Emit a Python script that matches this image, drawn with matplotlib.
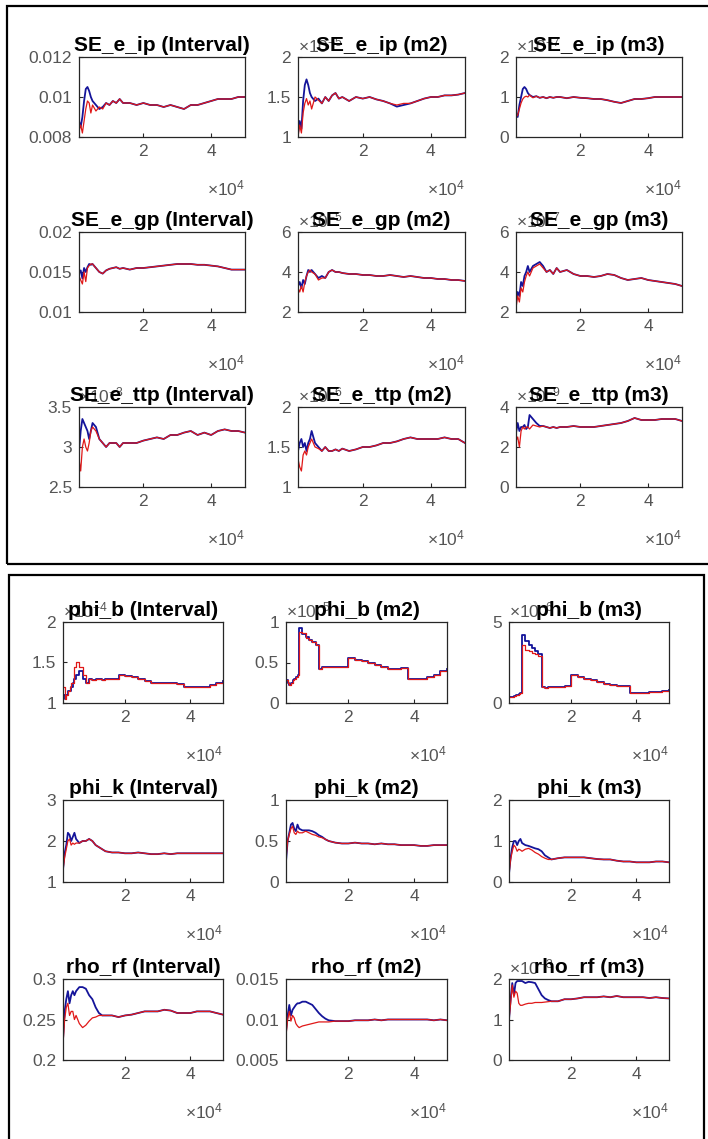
import matplotlib
matplotlib.use('Agg')
import matplotlib.pyplot as plt
from matplotlib.patches import Rectangle
from matplotlib.ticker import FuncFormatter, FixedLocator

plt.rcParams['font.family'] = ['Liberation Sans', 'DejaVu Sans']
plt.rcParams['mathtext.fontset'] = 'custom'
plt.rcParams['mathtext.rm'] = 'Liberation Sans'

# sample index (draws), shared by every panel
X = [1000, 1500, 2000, 2500, 3000, 3500, 4000, 4500, 5000, 6000, 7000, 8000,
     9000, 10000, 11000, 12000, 13000, 14000, 16000, 18000, 20000, 22000,
     24000, 26000, 28000, 30000, 32000, 34000, 36000, 38000, 40000, 42000,
     44000, 46000, 48000, 50000]

# --- top block (values as shown on the axes, multiplier in y_exp) ---
se_ip_int_blue = [0.0088, 0.0085, 0.0090, 0.0098, 0.0104, 0.0105, 0.0103, 0.0100, 0.0098, 0.0096, 0.0094, 0.0095,
                  0.0097, 0.0096, 0.0098, 0.0097, 0.0099, 0.0097, 0.0097, 0.0096, 0.0097, 0.0096, 0.0096, 0.0095,
                  0.0096, 0.0095, 0.0094, 0.0096, 0.0096, 0.0097, 0.0098, 0.0099, 0.0099, 0.0099, 0.0100, 0.0100]
se_ip_int_red = [0.0083, 0.0086, 0.0082, 0.0088, 0.0094, 0.0098, 0.0097, 0.0092, 0.0096, 0.0093, 0.0095, 0.0094,
                 0.0097, 0.0096, 0.0098, 0.0097, 0.0099, 0.0097, 0.0097, 0.0096, 0.0097, 0.0096, 0.0096, 0.0095,
                 0.0096, 0.0095, 0.0094, 0.0096, 0.0096, 0.0097, 0.0098, 0.0099, 0.0099, 0.0099, 0.0100, 0.0100]

se_ip_m2_blue = [1.05, 1.2, 1.1, 1.45, 1.65, 1.72, 1.65, 1.55, 1.50, 1.45, 1.48, 1.42,
                 1.50, 1.45, 1.52, 1.55, 1.48, 1.50, 1.45, 1.50, 1.48, 1.50, 1.47, 1.45,
                 1.42, 1.38, 1.40, 1.42, 1.45, 1.48, 1.50, 1.50, 1.52, 1.52, 1.53, 1.55]
se_ip_m2_red = [1.0, 1.15, 1.05, 1.3, 1.42, 1.48, 1.40, 1.45, 1.35, 1.50, 1.46, 1.42,
                1.50, 1.45, 1.52, 1.55, 1.48, 1.50, 1.45, 1.50, 1.48, 1.50, 1.47, 1.45,
                1.42, 1.40, 1.42, 1.42, 1.45, 1.48, 1.50, 1.50, 1.52, 1.52, 1.53, 1.55]

se_ip_m3_blue = [0.6, 0.5, 0.8, 1.0, 1.2, 1.25, 1.2, 1.1, 1.05, 1.0, 1.02, 0.98,
                 1.0, 0.97, 1.0, 0.98, 1.0, 1.0, 0.97, 1.0, 0.98, 0.97, 0.95, 0.95,
                 0.92, 0.88, 0.85, 0.9, 0.95, 0.95, 0.97, 1.0, 1.0, 1.0, 1.0, 1.0]
se_ip_m3_red = [0.5, 0.55, 0.7, 0.85, 0.95, 1.0, 1.02, 1.0, 1.05, 0.98, 1.02, 0.98,
                1.0, 0.97, 1.0, 0.98, 1.0, 1.0, 0.97, 1.0, 0.98, 0.97, 0.95, 0.95,
                0.92, 0.88, 0.85, 0.9, 0.95, 0.95, 0.97, 1.0, 1.0, 1.0, 1.0, 1.0]

se_gp_int_blue = [0.0148, 0.0152, 0.0142, 0.0155, 0.0150, 0.0156, 0.0160, 0.0159, 0.0160, 0.0155, 0.0150, 0.0148,
                  0.0152, 0.0154, 0.0155, 0.0156, 0.0154, 0.0155, 0.0153, 0.0155, 0.0155, 0.0156, 0.0157, 0.0158,
                  0.0159, 0.0160, 0.0160, 0.0160, 0.0159, 0.0159, 0.0158, 0.0157, 0.0155, 0.0153, 0.0153, 0.0153]
se_gp_int_red = [0.0145, 0.0140, 0.0135, 0.0150, 0.0138, 0.0155, 0.0158, 0.0160, 0.0160, 0.0155, 0.0150, 0.0148,
                 0.0152, 0.0154, 0.0155, 0.0156, 0.0154, 0.0155, 0.0153, 0.0155, 0.0155, 0.0156, 0.0157, 0.0158,
                 0.0159, 0.0160, 0.0160, 0.0160, 0.0159, 0.0159, 0.0158, 0.0157, 0.0155, 0.0153, 0.0153, 0.0153]

se_gp_m2_blue = [3.3, 3.5, 3.2, 3.6, 3.4, 3.8, 4.1, 4.0, 4.1, 3.9, 3.7, 3.8,
                 3.7, 4.0, 4.1, 4.0, 4.0, 3.95, 3.9, 3.9, 3.85, 3.85, 3.8, 3.8,
                 3.85, 3.8, 3.75, 3.8, 3.75, 3.7, 3.7, 3.65, 3.65, 3.6, 3.6, 3.55]
se_gp_m2_red = [3.2, 3.0, 3.3, 3.0, 3.5, 3.8, 4.0, 4.1, 4.0, 3.9, 3.6, 3.7,
                3.7, 4.0, 4.1, 4.0, 4.0, 3.95, 3.9, 3.9, 3.85, 3.85, 3.8, 3.8,
                3.85, 3.8, 3.75, 3.8, 3.75, 3.7, 3.7, 3.65, 3.65, 3.6, 3.6, 3.55]

se_gp_m3_blue = [2.5, 3.0, 2.8, 3.5, 3.3, 3.8, 4.0, 4.3, 4.0, 4.3, 4.4, 4.5,
                 4.3, 4.0, 4.1, 3.9, 4.2, 4.0, 4.1, 3.9, 3.8, 3.8, 3.75, 3.8,
                 3.9, 3.85, 3.7, 3.6, 3.65, 3.7, 3.6, 3.55, 3.5, 3.45, 3.4, 3.3]
se_gp_m3_red = [2.2, 2.8, 2.5, 3.2, 3.0, 3.5, 3.8, 4.0, 3.8, 4.2, 4.3, 4.4,
                4.2, 4.0, 4.1, 3.9, 4.2, 4.0, 4.1, 3.9, 3.8, 3.8, 3.75, 3.8,
                3.9, 3.85, 3.7, 3.6, 3.65, 3.7, 3.6, 3.55, 3.5, 3.45, 3.4, 3.3]

se_ttp_int_blue = [2.95, 3.2, 3.35, 3.3, 3.25, 3.2, 3.1, 3.2, 3.3, 3.25, 3.1, 3.05,
                   3.0, 3.05, 3.05, 3.05, 3.0, 3.05, 3.05, 3.05, 3.08, 3.1, 3.12, 3.1,
                   3.15, 3.15, 3.18, 3.2, 3.15, 3.18, 3.15, 3.2, 3.22, 3.2, 3.2, 3.18]
se_ttp_int_red = [2.85, 2.7, 3.0, 3.1, 3.0, 2.95, 3.05, 3.2, 3.25, 3.2, 3.1, 3.05,
                  3.0, 3.05, 3.05, 3.05, 3.0, 3.05, 3.05, 3.05, 3.08, 3.1, 3.12, 3.1,
                  3.15, 3.15, 3.18, 3.2, 3.15, 3.18, 3.15, 3.2, 3.22, 3.2, 3.2, 3.18]

se_ttp_m2_blue = [1.45, 1.55, 1.6, 1.5, 1.55, 1.45, 1.55, 1.6, 1.7, 1.55, 1.5, 1.45,
                  1.5, 1.45, 1.45, 1.47, 1.45, 1.48, 1.45, 1.47, 1.5, 1.5, 1.52, 1.55,
                  1.55, 1.57, 1.6, 1.62, 1.6, 1.6, 1.6, 1.6, 1.62, 1.6, 1.6, 1.55]
se_ttp_m2_red = [1.35, 1.25, 1.2, 1.4, 1.45, 1.4, 1.5, 1.55, 1.6, 1.5, 1.48, 1.45,
                 1.5, 1.45, 1.45, 1.47, 1.45, 1.48, 1.45, 1.47, 1.5, 1.5, 1.52, 1.55,
                 1.55, 1.57, 1.6, 1.62, 1.6, 1.6, 1.6, 1.6, 1.62, 1.6, 1.6, 1.55]

se_ttp_m3_blue = [2.7, 3.2, 2.8, 3.0, 3.0, 3.1, 2.9, 3.0, 3.6, 3.4, 3.2, 3.05,
                  3.05, 3.0, 2.95, 3.0, 2.95, 3.0, 3.0, 3.05, 3.0, 3.0, 3.0, 3.05,
                  3.1, 3.15, 3.2, 3.3, 3.45, 3.35, 3.35, 3.35, 3.4, 3.4, 3.4, 3.3]
se_ttp_m3_red = [2.3, 2.5, 2.0, 2.8, 3.0, 2.9, 3.0, 3.0, 2.9, 3.1, 3.05, 3.0,
                 3.05, 3.0, 2.95, 3.0, 2.95, 3.0, 3.0, 3.05, 3.0, 3.0, 3.0, 3.05,
                 3.1, 3.15, 3.2, 3.3, 3.45, 3.35, 3.35, 3.35, 3.4, 3.4, 3.4, 3.3]

# --- bottom block ---
phi_b_int_blue = [1.1, 1.05, 1.1, 1.15, 1.15, 1.2, 1.25, 1.3, 1.35, 1.4, 1.3, 1.25,
                  1.3, 1.28, 1.3, 1.3, 1.28, 1.3, 1.3, 1.35, 1.33, 1.32, 1.3, 1.27,
                  1.25, 1.25, 1.25, 1.25, 1.23, 1.2, 1.2, 1.2, 1.2, 1.22, 1.25, 1.27]
phi_b_int_red = [1.2, 1.05, 1.1, 1.15, 1.2, 1.25, 1.25, 1.45, 1.5, 1.45, 1.35, 1.25,
                 1.3, 1.28, 1.3, 1.3, 1.28, 1.3, 1.3, 1.35, 1.33, 1.32, 1.3, 1.27,
                 1.25, 1.25, 1.25, 1.25, 1.23, 1.2, 1.2, 1.2, 1.2, 1.22, 1.25, 1.27]

phi_b_m2_blue = [0.28, 0.25, 0.22, 0.25, 0.28, 0.3, 0.32, 0.35, 0.92, 0.85, 0.82, 0.78,
                 0.75, 0.72, 0.42, 0.45, 0.45, 0.45, 0.45, 0.45, 0.55, 0.53, 0.52, 0.5,
                 0.47, 0.45, 0.42, 0.42, 0.43, 0.3, 0.3, 0.3, 0.32, 0.35, 0.4, 0.42]
phi_b_m2_red = [0.28, 0.25, 0.22, 0.25, 0.28, 0.3, 0.32, 0.35, 0.88, 0.86, 0.8, 0.78,
                0.75, 0.72, 0.42, 0.45, 0.45, 0.45, 0.45, 0.45, 0.55, 0.53, 0.52, 0.5,
                0.47, 0.45, 0.42, 0.42, 0.43, 0.3, 0.3, 0.3, 0.32, 0.35, 0.4, 0.42]

phi_b_m3_blue = [0.4, 0.35, 0.4, 0.45, 0.5, 0.5, 0.55, 0.6, 4.2, 3.8, 3.6, 3.4,
                 3.2, 3.0, 1.0, 0.9, 1.0, 1.0, 1.0, 1.05, 1.7, 1.6, 1.5, 1.4,
                 1.3, 1.2, 1.1, 1.05, 1.05, 0.6, 0.6, 0.6, 0.65, 0.7, 0.75, 0.8]
phi_b_m3_red = [0.4, 0.35, 0.4, 0.45, 0.5, 0.5, 0.55, 0.6, 3.6, 3.3, 3.2, 3.1,
                3.0, 2.9, 1.0, 0.9, 1.0, 1.0, 1.0, 1.05, 1.7, 1.6, 1.5, 1.4,
                1.3, 1.2, 1.1, 1.05, 1.05, 0.6, 0.6, 0.6, 0.65, 0.7, 0.75, 0.8]

phi_k_int_blue = [1.3, 1.7, 1.9, 2.2, 2.15, 2.0, 2.1, 2.2, 2.05, 1.95, 2.0, 2.0,
                  2.05, 2.0, 1.9, 1.85, 1.8, 1.75, 1.72, 1.72, 1.7, 1.7, 1.72, 1.7,
                  1.68, 1.68, 1.7, 1.68, 1.7, 1.7, 1.7, 1.7, 1.7, 1.7, 1.7, 1.7]
phi_k_int_red = [1.3, 1.6, 1.8, 2.0, 2.05, 1.9, 1.95, 1.92, 1.95, 1.95, 2.0, 2.0,
                 2.05, 2.0, 1.9, 1.85, 1.8, 1.75, 1.72, 1.72, 1.7, 1.7, 1.72, 1.7,
                 1.68, 1.68, 1.7, 1.68, 1.7, 1.7, 1.7, 1.7, 1.7, 1.7, 1.7, 1.7]

phi_k_m2_blue = [0.25, 0.5, 0.6, 0.7, 0.72, 0.65, 0.62, 0.7, 0.65, 0.63, 0.63, 0.63,
                 0.62, 0.6, 0.57, 0.55, 0.52, 0.5, 0.48, 0.47, 0.47, 0.48, 0.47, 0.47,
                 0.46, 0.47, 0.46, 0.46, 0.45, 0.45, 0.45, 0.44, 0.44, 0.45, 0.45, 0.45]
phi_k_m2_red = [0.28, 0.5, 0.58, 0.65, 0.68, 0.6, 0.58, 0.62, 0.6, 0.6, 0.62, 0.6,
                0.58, 0.57, 0.55, 0.54, 0.52, 0.5, 0.48, 0.47, 0.47, 0.48, 0.47, 0.47,
                0.46, 0.47, 0.46, 0.46, 0.45, 0.45, 0.45, 0.44, 0.44, 0.45, 0.45, 0.45]

phi_k_m3_blue = [0.2, 0.6, 0.85, 1.0, 1.0, 0.9, 1.0, 1.05, 0.95, 0.9, 0.88, 0.85,
                 0.82, 0.8, 0.75, 0.65, 0.6, 0.55, 0.58, 0.6, 0.6, 0.6, 0.6, 0.58,
                 0.56, 0.55, 0.55, 0.52, 0.5, 0.5, 0.48, 0.48, 0.48, 0.5, 0.5, 0.48]
phi_k_m3_red = [0.2, 0.55, 0.75, 0.9, 0.85, 0.75, 0.8, 0.78, 0.75, 0.8, 0.82, 0.78,
                0.72, 0.68, 0.62, 0.58, 0.55, 0.55, 0.58, 0.6, 0.6, 0.6, 0.6, 0.58,
                0.56, 0.55, 0.55, 0.52, 0.5, 0.5, 0.48, 0.48, 0.48, 0.5, 0.5, 0.48]

rho_int_blue = [0.225, 0.26, 0.275, 0.285, 0.27, 0.28, 0.285, 0.28, 0.285, 0.29, 0.29, 0.288,
                0.28, 0.275, 0.265, 0.258, 0.255, 0.255, 0.255, 0.253, 0.255, 0.256, 0.258, 0.26,
                0.26, 0.26, 0.262, 0.261, 0.258, 0.258, 0.258, 0.26, 0.26, 0.26, 0.258, 0.256]
rho_int_red = [0.22, 0.25, 0.265, 0.27, 0.255, 0.26, 0.26, 0.25, 0.255, 0.245, 0.24, 0.243,
               0.248, 0.252, 0.253, 0.255, 0.255, 0.255, 0.255, 0.253, 0.255, 0.256, 0.258, 0.26,
               0.26, 0.26, 0.262, 0.261, 0.258, 0.258, 0.258, 0.26, 0.26, 0.26, 0.258, 0.256]

rho_m2_blue = [0.0085, 0.0105, 0.0118, 0.0105, 0.0112, 0.0115, 0.0118, 0.0120, 0.0120, 0.0122, 0.0122, 0.0120,
               0.0118, 0.0113, 0.0108, 0.0104, 0.0101, 0.0099, 0.0098, 0.0098, 0.0098, 0.0099, 0.0099, 0.0099,
               0.0100, 0.0099, 0.0100, 0.0100, 0.0100, 0.0100, 0.0100, 0.0100, 0.0100, 0.0099, 0.0100, 0.0099]
rho_m2_red = [0.0080, 0.0100, 0.0110, 0.0098, 0.0105, 0.0102, 0.0095, 0.0092, 0.0090, 0.0092, 0.0093, 0.0094,
              0.0095, 0.0096, 0.0097, 0.0097, 0.0097, 0.0097, 0.0098, 0.0098, 0.0098, 0.0099, 0.0099, 0.0099,
              0.0100, 0.0099, 0.0100, 0.0100, 0.0100, 0.0100, 0.0100, 0.0100, 0.0100, 0.0099, 0.0100, 0.0099]

rho_m3_blue = [1.0, 1.5, 1.9, 1.6, 1.9, 1.95, 1.95, 1.95, 1.95, 1.9, 1.93, 1.92,
               1.9, 1.75, 1.6, 1.52, 1.48, 1.45, 1.45, 1.5, 1.5, 1.52, 1.55, 1.55,
               1.55, 1.57, 1.55, 1.58, 1.55, 1.55, 1.55, 1.55, 1.53, 1.55, 1.53, 1.52]
rho_m3_red = [1.0, 1.4, 1.85, 1.55, 1.7, 1.65, 1.4, 1.35, 1.35, 1.38, 1.4, 1.4,
              1.42, 1.42, 1.42, 1.43, 1.44, 1.45, 1.45, 1.5, 1.5, 1.52, 1.55, 1.55,
              1.55, 1.57, 1.55, 1.58, 1.55, 1.55, 1.55, 1.55, 1.53, 1.55, 1.53, 1.52]

titles = ['SE_e_ip (Interval)', 'SE_e_ip (m2)', 'SE_e_ip (m3)',
          'SE_e_gp (Interval)', 'SE_e_gp (m2)', 'SE_e_gp (m3)',
          'SE_e_ttp (Interval)', 'SE_e_ttp (m2)', 'SE_e_ttp (m3)',
          'phi_b (Interval)', 'phi_b (m2)', 'phi_b (m3)',
          'phi_k (Interval)', 'phi_k (m2)', 'phi_k (m3)',
          'rho_rf (Interval)', 'rho_rf (m2)', 'rho_rf (m3)']
y_exp = [0, -5, -7, 0, -5, -7, -3, -6, -9,
         -4, -5, -6, 0, 0, 0, 0, 0, -3]
y_ticks = [[0.008, 0.01, 0.012], [1, 1.5, 2], [0, 1, 2],
           [0.01, 0.015, 0.02], [2, 4, 6], [2, 4, 6],
           [2.5, 3, 3.5], [1, 1.5, 2], [0, 2, 4],
           [1, 1.5, 2], [0, 0.5, 1], [0, 5],
           [1, 2, 3], [0, 0.5, 1], [0, 1, 2],
           [0.2, 0.25, 0.3], [0.005, 0.01, 0.015], [0, 1, 2]]
y_lims = [(0.008, 0.012), (1, 2), (0, 2), (0.01, 0.02), (2, 6), (2, 6),
          (2.5, 3.5), (1, 2), (0, 4), (1, 2), (0, 1), (0, 5),
          (1, 3), (0, 1), (0, 2), (0.2, 0.3), (0.005, 0.015), (0, 2)]
blue_series = [se_ip_int_blue, se_ip_m2_blue, se_ip_m3_blue,
               se_gp_int_blue, se_gp_m2_blue, se_gp_m3_blue,
               se_ttp_int_blue, se_ttp_m2_blue, se_ttp_m3_blue,
               phi_b_int_blue, phi_b_m2_blue, phi_b_m3_blue,
               phi_k_int_blue, phi_k_m2_blue, phi_k_m3_blue,
               rho_int_blue, rho_m2_blue, rho_m3_blue]
red_series = [se_ip_int_red, se_ip_m2_red, se_ip_m3_red,
              se_gp_int_red, se_gp_m2_red, se_gp_m3_red,
              se_ttp_int_red, se_ttp_m2_red, se_ttp_m3_red,
              phi_b_int_red, phi_b_m2_red, phi_b_m3_red,
              phi_k_int_red, phi_k_m2_red, phi_k_m3_red,
              rho_int_red, rho_m2_red, rho_m3_red]
step_panels = [9, 10, 11]

W, H = 708, 1139
fig = plt.figure(figsize=(W / 100, H / 100), dpi=100)
fig.patch.set_facecolor('white')

# axes boxes in pixels (left, right), (top, bottom)
top_cols = [(79, 245), (298, 465), (516, 682)]
top_rows = [(57, 137), (232, 312), (407, 487)]
bot_cols = [(63, 223), (286, 447), (509, 669)]
bot_rows = [(622, 703), (800, 882), (979, 1060)]

boxes = []
for rows, cols in [(top_rows, top_cols), (bot_rows, bot_cols)]:
    for (t, b) in rows:
        for (l, r) in cols:
            boxes.append((l, t, r, b))

tick_col = '#555555'
for i, (l, t, r, b) in enumerate(boxes):
    ax = fig.add_axes([l / W, 1 - b / H, (r - l) / W, (b - t) / H])
    scale = 10.0 ** y_exp[i]
    ys_b = [v * scale for v in blue_series[i]]
    ys_r = [v * scale for v in red_series[i]]
    ds = 'steps-post' if i in step_panels else 'default'
    ax.plot(X, ys_b, color='#14149a', lw=1.3, drawstyle=ds)
    ax.plot(X, ys_r, color='#e01818', lw=0.9, drawstyle=ds)

    ax.set_xlim(1000, 50000)
    ax.set_ylim(y_lims[i][0] * scale, y_lims[i][1] * scale)
    ax.xaxis.set_major_locator(FixedLocator([20000, 40000]))
    ax.xaxis.set_major_formatter(FuncFormatter(lambda v, p: '%g' % (v / 1e4)))
    ax.yaxis.set_major_locator(FixedLocator([v * scale for v in y_ticks[i]]))
    ax.yaxis.set_major_formatter(FuncFormatter(lambda v, p, s=scale: '%g' % round(v / s, 6)))
    ax.tick_params(direction='in', length=3, width=0.8, labelsize=12.5,
                   colors='#262626', labelcolor=tick_col, pad=5)
    for sp in ax.spines.values():
        sp.set_color('#262626')
        sp.set_linewidth(0.9)

    ax.annotate('×$\\mathregular{10^{4}}$', xy=(1, 0), xycoords='axes fraction',
                xytext=(0, -30), textcoords='offset points', ha='right', va='top',
                fontsize=12.5, color=tick_col)
    if y_exp[i] != 0:
        ax.annotate('×$\\mathregular{10^{%d}}$' % y_exp[i], xy=(0, 1), xycoords='axes fraction',
                    xytext=(0, 1), textcoords='offset points', ha='left', va='bottom',
                    fontsize=12.5, color=tick_col)
    ax.set_title(titles[i], fontsize=15, fontweight='bold', pad=4, color='black')

# the two framed blocks
fig.add_artist(Rectangle((7 / W, 1 - 564 / H), (730 - 7) / W, (564 - 6) / H,
                         transform=fig.transFigure, fill=False, lw=1.6, ec='black'))
fig.add_artist(Rectangle((9 / W, 1 - 1160 / H), (704 - 9) / W, (1160 - 575) / H,
                         transform=fig.transFigure, fill=False, lw=1.6, ec='black'))

fig.savefig('out.png', dpi=100, facecolor='white')
